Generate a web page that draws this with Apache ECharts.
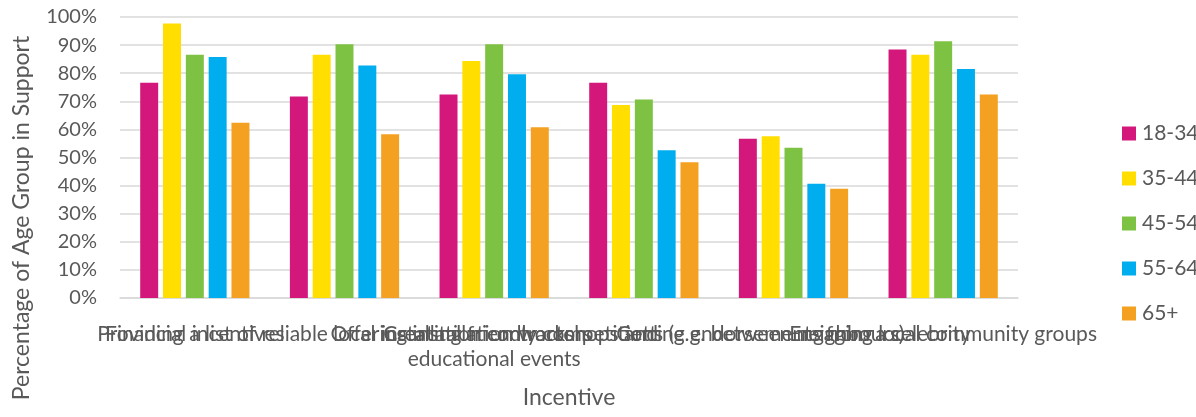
<!DOCTYPE html>
<html>
<head>
<meta charset="utf-8">
<script src="https://cdn.jsdelivr.net/npm/echarts@6/dist/echarts.min.js"></script>
<style>
  html, body { margin: 0; padding: 0; background: #ffffff; }
  #chart { width: 1196px; height: 417px; }
</style>
</head>
<body>
<div id="chart"></div>
<script>
// Incentive categories (x axis)
const categories = [
  'Financial incentives',
  'Providing a list of reliable local installation contractors',
  'Offering installation workshops and\neducational events',
  'Creating friendly competitions (e.g. between neighbours)',
  'Getting endorsements from a celebrity',
  'Engaging local community groups'
];

// Age groups (legend)
const ageGroups = ['18-34', '35-44', '45-54', '55-64', '65+'];

// Percentage of each age group in support, per incentive
const s18_34 = [76.6, 71.7, 72.4, 76.6, 56.7, 88.4];
const s35_44 = [97.7, 86.6, 84.3, 68.7, 57.6, 86.6];
const s45_54 = [86.6, 90.3, 90.3, 70.6, 53.5, 91.4];
const s55_64 = [85.8, 82.7, 79.6, 52.6, 40.7, 81.5];
const s65plus = [62.4, 58.3, 60.8, 48.3, 38.9, 72.4];

// Y axis ticks
const yMin = 0;
const yMax = 100;
const yStep = 10;

const seriesValues = [s18_34, s35_44, s45_54, s55_64, s65plus];
const colors = ['#D4177B', '#FFDE00', '#7DC242', '#00AEEF', '#F4A020'];

const FONT = 'Lato, "Open Sans", sans-serif';
const TEXT = '#595959';
const GRID = '#D9D9D9';

const chart = echarts.init(document.getElementById('chart'), null, { renderer: 'canvas' });

chart.setOption({
  animation: false,
  backgroundColor: '#ffffff',
  color: colors,
  textStyle: { fontFamily: FONT },
  grid: { left: 120, right: 178, top: 17, bottom: 119, containLabel: false },
  legend: {
    orient: 'vertical',
    left: 1117,
    top: 117,
    itemWidth: 14,
    itemHeight: 14,
    itemGap: 22,
    icon: 'rect',
    data: ageGroups,
    textStyle: { color: TEXT, fontSize: 21, fontFamily: FONT, lineHeight: 23, padding: [0, 0, 0, 1] }
  },
  xAxis: {
    type: 'category',
    data: categories,
    name: 'Incentive',
    nameLocation: 'middle',
    nameGap: 88,
    nameTextStyle: { color: TEXT, fontSize: 23, fontFamily: FONT },
    axisLine: { show: true, lineStyle: { color: GRID, width: 1.5 } },
    axisTick: { show: false },
    axisLabel: {
      interval: 0,
      hideOverlap: false,
      color: TEXT,
      fontSize: 21,
      fontFamily: FONT,
      lineHeight: 25,
      margin: 24
    }
  },
  yAxis: {
    type: 'value',
    min: yMin,
    max: yMax,
    interval: yStep,
    axisLine: { show: false },
    axisTick: { show: false },
    splitLine: { lineStyle: { color: GRID, width: 1.5 } },
    axisLabel: {
      color: TEXT,
      fontSize: 20,
      fontFamily: FONT,
      margin: 23,
      formatter: '{value}%'
    }
  },
  graphic: [{
    type: 'text',
    x: 22,
    y: 218,
    rotation: Math.PI / 2,
    style: {
      text: 'Percentage of Age Group in Support',
      fill: TEXT,
      font: '23px ' + FONT,
      align: 'center',
      verticalAlign: 'middle'
    }
  }],
  series: ageGroups.map((name, i) => ({
    name: name,
    type: 'bar',
    data: seriesValues[i],
    barGap: '27%',
    barCategoryGap: '27%',
    itemStyle: { color: colors[i] }
  }))
});
</script>
</body>
</html>
